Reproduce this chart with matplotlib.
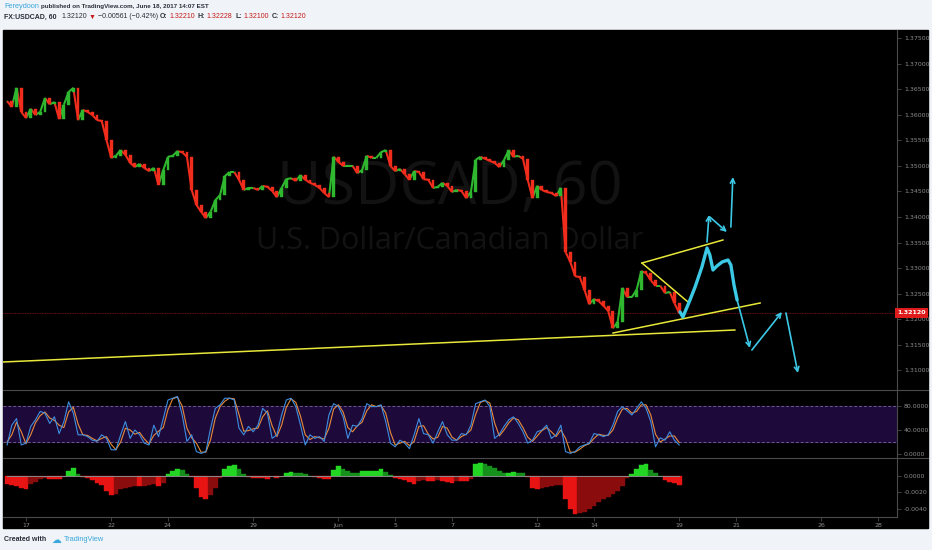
import numpy as np
import matplotlib.pyplot as plt
from matplotlib.lines import Line2D
from matplotlib.patches import Rectangle
from matplotlib.collections import LineCollection

# USDCAD 60 - closes sampled every 4 trading hours (6 per day)
close = [1.3627, 1.3616, 1.3653, 1.3606, 1.3594, 1.3612, 1.3600, 1.3606, 1.3633, 1.3621,
         1.3625, 1.3592, 1.3620, 1.3645, 1.3653, 1.3590, 1.3610, 1.3606, 1.3600, 1.3590,
         1.3588, 1.3551, 1.3516, 1.3520, 1.3531, 1.3522, 1.3506, 1.3498, 1.3504, 1.3496,
         1.3490, 1.3496, 1.3463, 1.3492, 1.3518, 1.3520, 1.3529, 1.3527, 1.3518, 1.3453,
         1.3424, 1.3410, 1.3398, 1.3410, 1.3433, 1.3443, 1.3480, 1.3488, 1.3488, 1.3473,
         1.3453, 1.3457, 1.3457, 1.3453, 1.3461, 1.3459, 1.3451, 1.3439, 1.3457, 1.3474,
         1.3476, 1.3471, 1.3482, 1.3473, 1.3467, 1.3463, 1.3457, 1.3447, 1.3439, 1.3518,
         1.3508, 1.3500, 1.3500, 1.3500, 1.3486, 1.3492, 1.3520, 1.3516, 1.3516, 1.3527,
         1.3531, 1.3500, 1.3490, 1.3494, 1.3484, 1.3473, 1.3490, 1.3488, 1.3474, 1.3473,
         1.3457, 1.3459, 1.3467, 1.3461, 1.3449, 1.3453, 1.3451, 1.3437, 1.3449, 1.3512,
         1.3518, 1.3514, 1.3510, 1.3506, 1.3498, 1.3512, 1.3531, 1.3518, 1.3520, 1.3514,
         1.3473, 1.3437, 1.3461, 1.3453, 1.3449, 1.3447, 1.3441, 1.3457, 1.3331, 1.3312,
         1.3284, 1.3282, 1.3257, 1.3229, 1.3239, 1.3235, 1.3226, 1.3216, 1.3182, 1.3194,
         1.3261, 1.3243, 1.3243, 1.3257, 1.3294, 1.3290, 1.3276, 1.3265, 1.3265, 1.3251,
         1.3253, 1.3231, 1.3212]

stoch_k = [15, 48, 59, 15, 18, 46, 57, 71, 68, 51,
           62, 34, 54, 87, 68, 32, 32, 29, 23, 21,
           32, 26, 7, 7, 32, 54, 26, 40, 32, 18,
           15, 48, 29, 59, 90, 93, 96, 65, 21, 32,
           4, 1, 4, 43, 76, 82, 93, 93, 90, 43,
           32, 46, 37, 48, 76, 68, 26, 32, 65, 90,
           93, 79, 48, 15, 32, 26, 29, 21, 65, 84,
           79, 62, 26, 48, 46, 59, 84, 79, 79, 82,
           54, 18, 12, 23, 18, 9, 32, 59, 34, 32,
           18, 37, 54, 32, 23, 23, 34, 32, 48, 84,
           87, 90, 79, 26, 33, 46, 57, 62, 51, 37,
           18, 23, 37, 40, 48, 26, 32, 48, 4, 1,
           4, 12, 15, 18, 34, 32, 29, 32, 48, 71,
           79, 72, 65, 76, 87, 76, 54, 12, 27, 23,
           37, 23, 15]

stoch_d = [20, 32, 53, 37, 17, 32, 52, 64, 70, 60,
           56, 48, 44, 70, 78, 50, 32, 31, 26, 22,
           26, 29, 16, 7, 20, 43, 40, 33, 36, 25,
           17, 31, 38, 44, 74, 92, 95, 80, 43, 27,
           18, 3, 3, 24, 60, 79, 88, 93, 92, 66,
           38, 39, 42, 43, 62, 72, 47, 29, 48, 78,
           92, 86, 63, 32, 24, 29, 27, 25, 43, 75,
           82, 70, 44, 37, 47, 53, 72, 82, 79, 81,
           68, 36, 15, 18, 21, 14, 21, 46, 47, 33,
           25, 28, 46, 43, 28, 23, 29, 33, 40, 66,
           86, 89, 85, 52, 30, 40, 52, 60, 57, 44,
           28, 21, 30, 39, 44, 37, 29, 40, 26, 3,
           3, 8, 14, 17, 26, 33, 31, 31, 40, 60,
           75, 76, 68, 71, 82, 82, 65, 33, 20, 25,
           30, 30, 19]

# MACD histogram, in units of 1e-4
macd_hist = [-10.1, -11.3, -12.1, -14.1, -15.4, -10.1, -7.3, -4.0, -2.4, -3.2,
             -4.0, -4.0, -0.8, 6.1, 10.1, 2.0, -0.8, -2.4, -5.3, -8.1,
             -11.3, -18.2, -23.4, -22.2, -16.2, -14.5, -13.3, -12.1, -12.1, -11.7,
             -10.9, -10.1, -12.1, -8.1, 2.8, 5.7, 8.1, 7.3, 2.0, -0.8,
             -14.1, -25.0, -28.3, -23.4, -14.1, -2.0, 8.1, 12.1, 12.9, 8.1,
             2.0, -0.8, -2.0, -2.0, -2.4, -3.2, -1.2, -2.0, -0.8, 3.2,
             4.8, 4.0, 3.6, 2.4, 0.0, -0.8, -2.0, -3.2, -3.2, 7.3,
             12.1, 8.9, 6.1, 4.0, 3.2, 5.7, 6.1, 6.1, 6.1, 8.1,
             4.8, 0.8, -2.0, -4.0, -5.3, -7.3, -10.1, -6.1, -5.3, -6.1,
             -6.1, -5.3, -5.7, -7.3, -8.1, -6.1, -6.1, -6.5, -4.0, 14.5,
             15.4, 14.9, 12.1, 9.3, 6.1, 3.2, 3.2, 4.8, 4.0, 3.2,
             -0.8, -14.1, -15.4, -14.1, -13.3, -12.1, -11.3, -10.5, -28.3, -39.6,
             -46.5, -45.2, -43.2, -40.4, -36.4, -31.5, -28.3, -25.5, -22.2, -18.2,
             -12.1, -2.0, 2.0, 8.1, 12.9, 14.9, 7.3, 3.2, 0.0, -4.8,
             -7.3, -8.9, -11.3]

day_ticks = [0, 3, 5, 8, 11, 13, 15, 18, 20, 23, 25, 28, 30]
day_labels = ['17', '22', '24', '29', 'Jun', '5', '7', '12', '14', '19', '21', '26', '28']

# drawings: (trading day, price)
yellow_lines = [((-0.81, 1.31158), (24.96, 1.31785)),
                ((20.67, 1.31726), (25.85, 1.32314)),
                ((21.69, 1.33098), (24.54, 1.33549)),
                ((21.69, 1.33098), (23.31, 1.32334))]
path_t = [23.03, 23.13, 23.38, 23.56, 23.80, 23.98, 24.08, 24.19, 24.33, 24.51, 24.72, 24.82, 24.93, 25.04]
path_p = [1.32138, 1.32040, 1.32373, 1.32628, 1.33020, 1.33392, 1.33255, 1.32961, 1.33039,
          1.33118, 1.33157, 1.33059, 1.32667, 1.32373]
cyan_arrows = [((25.04, 1.32373), (25.49, 1.31432)),
               ((25.56, 1.31393), (26.62, 1.32138)),
               ((26.76, 1.32118), (27.18, 1.30942)),
               ((23.98, 1.33510), (24.05, 1.34039)),
               ((24.08, 1.34000), (24.68, 1.33706)),
               ((24.82, 1.33804), (24.89, 1.34784))]

close = np.array(close)
t = (np.arange(len(close)) - 4) / 6.0
opn = np.r_[close[0], close[:-1]]
hist = np.array(macd_hist) * 1e-4

W, H = 932, 550
fig = plt.figure(figsize=(W / 100, H / 100), dpi=100, facecolor='#f0f3f7')
fig.patches.append(Rectangle((3 / W, 1 - 528 / H), 925 / W, 498 / H,
                             transform=fig.transFigure, color='black', zorder=-5))

left, width = 3 / W, 894 / W
ax = fig.add_axes([left, 1 - 390 / H, width, 360 / H])
ax_rsi = fig.add_axes([left, 1 - 458 / H, width, 68 / H], sharex=ax)
ax_macd = fig.add_axes([left, 1 - 517 / H, width, 59 / H], sharex=ax)

grey = '#4a4a4a'
for a in (ax, ax_rsi, ax_macd):
    a.set_facecolor('none')
    for s in ('left', 'top', 'bottom'):
        a.spines[s].set_visible(False)
    a.spines['right'].set_color(grey)
    a.yaxis.tick_right()
    a.tick_params(axis='y', colors=grey, labelcolor='#8c8c8c', labelsize=4.5, length=3, width=0.6, pad=2)
    a.tick_params(axis='x', length=0, labelbottom=False)
ax_macd.spines['bottom'].set_visible(True)
ax_macd.spines['bottom'].set_color(grey)
ax_macd.tick_params(axis='x', labelbottom=True, length=3, width=0.6, colors=grey,
                    labelcolor='#8c8c8c', labelsize=4.5, pad=1.5)

# pane separators
for py in (390, 458):
    fig.add_artist(Line2D([3 / W, 928 / W], [1 - py / H] * 2, color=grey, lw=0.8))

# watermark
ax.text(0.5, 0.561, 'USDCAD, 60', transform=ax.transAxes, ha='center', va='center',
        fontsize=44, color='#121212', family='Open Sans', zorder=0)
ax.text(0.5, 0.414, 'U.S. Dollar/Canadian Dollar', transform=ax.transAxes, ha='center',
        va='center', fontsize=22, color='#121212', family='Open Sans', zorder=0)

# candles: thin bodies plus the jagged close-to-close path
up = close >= opn
cols = np.where(up, '#2fb82f', '#f02c1c')
segs = np.stack([np.c_[t[:-1], close[:-1]], np.c_[t[1:], close[1:]]], axis=1)
ax.add_collection(LineCollection(segs, colors=cols[1:], linewidths=1.5, zorder=2))
ax.bar(t, close - opn, bottom=opn, width=0.1, color=cols, edgecolor=cols, linewidth=0.3, zorder=2)

ax.axhline(close[-1], color='#9a1515', lw=0.6, ls=(0, (1, 1)), zorder=1)
ax.text(1.0, close[-1], f'{close[-1]:.5f}', transform=ax.get_yaxis_transform(), ha='left',
        va='center', fontsize=4.5, color='white', fontweight='bold',
        bbox=dict(boxstyle='square,pad=0.35', fc='#e01b1b', ec='none'))

for (t0, p0), (t1, p1) in yellow_lines:
    ax.plot([t0, t1], [p0, p1], color='#e8e83a', lw=1.1, zorder=3)
ax.plot(path_t, path_p, color='#3cc9e6', lw=2.4, solid_capstyle='round', solid_joinstyle='round', zorder=4)
for (t0, p0), (t1, p1) in cyan_arrows:
    ax.annotate('', xy=(t1, p1), xytext=(t0, p0),
                arrowprops=dict(arrowstyle='->', color='#3cc9e6', lw=1.2, shrinkA=0, shrinkB=0,
                                mutation_scale=8), zorder=4)

ax.set_xlim(-0.81, 30.67)
ax.set_ylim(1.30609, 1.37665)
ax.set_yticks(np.arange(1.310, 1.3751, 0.005))
ax.yaxis.set_major_formatter(lambda v, pos: f'{v:.5f}')

# stochastic RSI
ax_rsi.axhspan(20, 80, color='#1d0a3a', zorder=0)
for lv in (20, 80):
    ax_rsi.axhline(lv, color='#6b5a8c', lw=0.7, ls=(0, (3, 2)), zorder=1)
ax_rsi.plot(t, stoch_d, color='#e88a3a', lw=0.8, zorder=2)
ax_rsi.plot(t, stoch_k, color='#3d8ee0', lw=0.8, zorder=3)
ax_rsi.set_ylim(-6.7, 106.7)
ax_rsi.set_yticks([0, 40, 80])
ax_rsi.yaxis.set_major_formatter(lambda v, pos: f'{v:.4f}')

# MACD histogram
dh = np.diff(np.r_[hist[0], hist])
hcols = np.where(hist >= 0, np.where(dh >= 0, '#24d624', '#15901a'),
                 np.where(dh <= 0, '#e81414', '#8a0c0c'))
ax_macd.bar(t, hist, width=1 / 6, color=hcols, edgecolor=hcols, linewidth=0.3)
ax_macd.plot([t[0], t[-1]], [0, 0], color='#8a8a8a', lw=0.7)
ax_macd.set_ylim(-0.00497, 0.00218)
ax_macd.set_yticks([0, -0.002, -0.004])
ax_macd.yaxis.set_major_formatter(lambda v, pos: f'{v:.4f}')
ax_macd.set_xticks(day_ticks)
ax_macd.set_xticklabels(day_labels)

# header / footer text rows
fig.canvas.draw()
rend = fig.canvas.get_renderer()


def write_row(px, py, parts):
    x = px / W
    for s, c, wgt, size, gap in parts:
        tx = fig.text(x, 1 - py / H, s, color=c, fontsize=size, fontweight=wgt, va='center',
                      ha='left', family=['Liberation Sans', 'DejaVu Sans'])
        bb = tx.get_window_extent(renderer=rend)
        x = (bb.x1 + gap) / W


dark, red, blue = '#2a2e39', '#c41a1a', '#3ba7dc'
write_row(4, 6.5, [('Fereydoon', blue, 'normal', 5.3, 2.5),
                   ('published on TradingView.com, June 18, 2017 14:07 EST', dark, 'bold', 4.5, 0)])
write_row(4, 17, [('FX:USDCAD, 60', dark, 'bold', 5.0, 4.5), ('1.32120', dark, 'normal', 5.0, 2),
                  ('\u25bc', red, 'normal', 5.0, 2), ('\u22120.00561 (\u22120.42%)', dark, 'normal', 5.0, 2.5),
                  ('O:', dark, 'bold', 5.0, 1.5), ('1.32210', red, 'normal', 5.0, 3),
                  ('H:', dark, 'bold', 5.0, 1.5), ('1.32228', red, 'normal', 5.0, 3),
                  ('L:', dark, 'bold', 5.0, 1.5), ('1.32100', red, 'normal', 5.0, 3),
                  ('C:', dark, 'bold', 5.0, 1.5), ('1.32120', red, 'normal', 5.0, 0)])
write_row(4, 539.5, [('Created with', dark, 'bold', 5.0, 5), ('\u2601', blue, 'normal', 7, 3),
                     ('TradingView', blue, 'normal', 5.3, 0)])

fig.savefig('out.png', dpi=100, facecolor=fig.get_facecolor())
